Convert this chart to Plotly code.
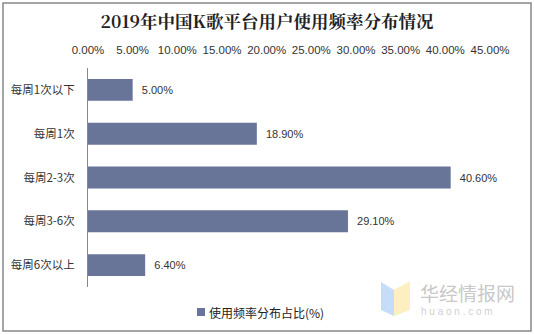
import plotly.graph_objects as go

categories = ["每周1次以下", "每周1次", "每周2-3次", "每周3-6次", "每周6次以上"]
values = [5.00, 18.90, 40.60, 29.10, 6.40]
tick_vals = [0, 5, 10, 15, 20, 25, 30, 35, 40, 45]
tick_text = ["%.2f%%" % v for v in tick_vals]
series_name = "使用频率分布占比(%)"

W, H = 534, 335
ml, mr, mt, mb = 88, 44, 68, 48
pw, ph = W - ml - mr, H - mt - mb

def px(x):
    return (x - ml) / pw

def py(y):
    return 1 - (y - mt) / ph

fig = go.Figure()
fig.add_trace(go.Bar(
    y=categories, x=values, orientation="h",
    marker=dict(color="#687599", line=dict(width=0)),
    text=["  %.2f%%" % v for v in values], textposition="outside",
    textfont=dict(family="Liberation Sans, Arial", size=11, color="#333333"),
    cliponaxis=False, name=series_name, showlegend=False,
))

fig.update_layout(
    width=W, height=H,
    margin=dict(l=ml, r=mr, t=mt, b=mb, autoexpand=False),
    paper_bgcolor="white", plot_bgcolor="white",
    bargap=0.5,
    title=dict(text="<b>2019年中国K歌平台用户使用频率分布情况</b>", x=0.5, xanchor="center",
               y=1 - 22 / H, yanchor="middle",
               font=dict(family="Noto Serif CJK SC, Noto Sans CJK SC", size=17.5, color="#222222")),
    xaxis=dict(range=[0, 45], side="top", tickvals=tick_vals, ticktext=tick_text,
               showgrid=False, zeroline=False, showline=False, ticks="", automargin=False,
               ticklabelstandoff=11,
               tickfont=dict(family="Liberation Sans, Arial", size=11.5, color="#333333")),
    yaxis=dict(autorange="reversed", showgrid=False, showline=True, linecolor="#888888",
               linewidth=1, ticks="", ticklen=0, ticklabelstandoff=10, automargin=False,
               tickfont=dict(family="Noto Sans CJK SC", size=11.5, color="#333333")),
    shapes=[
        dict(type="rect", xref="paper", yref="paper", x0=px(3), x1=px(531), y0=py(331), y1=py(3),
             line=dict(color="#888888", width=1.5), layer="below"),
        dict(type="rect", xref="paper", yref="paper", x0=px(197), x1=px(205), y0=py(316), y1=py(308),
             fillcolor="#687599", line=dict(width=0)),
        dict(type="path", xref="paper", yref="paper",
             path="M %f %f L %f %f L %f %f L %f %f Z" % (px(381), py(282), px(394), py(290), px(394), py(316), px(381), py(310)),
             fillcolor="#B8D4F8", line=dict(width=0), opacity=0.8),
        dict(type="path", xref="paper", yref="paper",
             path="M %f %f L %f %f L %f %f L %f %f Z" % (px(394), py(290), px(410), py(281), px(410), py(310), px(394), py(316)),
             fillcolor="#FCEBB0", line=dict(width=0), opacity=0.8),
    ],
    annotations=[
        dict(text=series_name, xref="paper", yref="paper", x=px(207), y=py(312), xanchor="left",
             yanchor="middle", showarrow=False,
             font=dict(family="Noto Sans CJK SC", size=12, color="#222222")),
        dict(text="华经情报网", xref="paper", yref="paper", x=px(418), y=py(292), xanchor="left",
             yanchor="middle", showarrow=False,
             font=dict(family="Noto Sans CJK SC", size=19, color="#C8C8C8")),
        dict(text="h u a o n . c o m", xref="paper", yref="paper", x=px(419), y=py(311), xanchor="left",
             yanchor="middle", showarrow=False,
             font=dict(family="Liberation Sans", size=10, color="#D0D0D0")),
    ],
)

fig.write_html("out.html")
